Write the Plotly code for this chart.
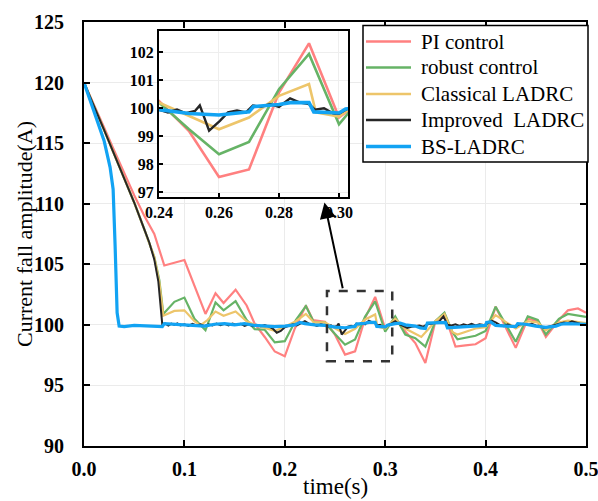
import plotly.graph_objects as go

# ---------------- data ----------------
t_pi = [0, 0.01, 0.02, 0.03, 0.04, 0.05, 0.06, 0.07, 0.08, 0.10, 0.121, 0.131, 0.139, 0.151, 0.162,
        0.17, 0.18, 0.19, 0.20, 0.21, 0.221, 0.228, 0.24, 0.25, 0.26, 0.27, 0.28, 0.29, 0.30, 0.31,
        0.32, 0.33, 0.34, 0.35, 0.359, 0.37, 0.38, 0.39, 0.40, 0.41, 0.43, 0.442, 0.452, 0.46, 0.473,
        0.482, 0.492, 0.50]
y_pi = [120, 118.2, 116.3, 114.4, 112.5, 110.7, 109.0, 107.5, 104.9, 105.35, 100.9, 102.6, 101.8, 102.9, 101.6,
        100.1, 99.0, 97.8, 97.4, 99.7, 101.6, 100.4, 100.26, 99.19, 97.55, 97.82, 100.56, 102.31, 99.67, 100.5,
        99.45, 98.5, 96.85, 100.3, 100.9, 98.2, 98.3, 98.4, 98.9, 101.5, 98.1, 100.5, 100.3, 99.0, 100.4,
        101.2, 101.35, 101.0]

t_rob = [0, 0.01, 0.02, 0.03, 0.04, 0.05, 0.06, 0.07, 0.075, 0.079, 0.09, 0.10, 0.11, 0.121, 0.131,
         0.139, 0.151, 0.162, 0.17, 0.18, 0.19, 0.20, 0.211, 0.221, 0.229, 0.24, 0.25, 0.26, 0.27, 0.28,
         0.29, 0.30, 0.31, 0.32, 0.33, 0.34, 0.35, 0.359, 0.367, 0.372, 0.39, 0.40, 0.41, 0.43, 0.442,
         0.452, 0.46, 0.473, 0.482, 0.50]
y_rob = [120, 118.1, 116.1, 114.1, 112.1, 110.1, 107.9, 105.6, 103.7, 100.9, 101.9, 102.25, 100.5, 99.55, 101.85,
         101.2, 101.95, 100.4, 99.65, 99.6, 98.55, 98.65, 100.4, 101.55, 100.2, 100.2, 99.25, 98.36, 98.8, 100.68,
         101.93, 99.43, 100.7, 99.2, 98.9, 98.2, 100.3, 101.0, 99.4, 98.8, 99.1, 99.5, 101.5, 98.6, 100.7,
         100.4, 99.2, 100.5, 100.9, 100.65]

t_cla = [0, 0.01, 0.02, 0.03, 0.04, 0.05, 0.06, 0.07, 0.075, 0.079, 0.09, 0.10, 0.11, 0.116, 0.123,
         0.131, 0.139, 0.151, 0.162, 0.17, 0.18, 0.19, 0.20, 0.211, 0.221, 0.229, 0.24, 0.25, 0.26, 0.27,
         0.28, 0.29, 0.2923, 0.30, 0.31, 0.32, 0.336, 0.35, 0.359, 0.367, 0.372, 0.39, 0.40, 0.41, 0.43,
         0.442, 0.452, 0.46, 0.473, 0.482, 0.50]
y_cla = [120, 118.1, 116.1, 114.1, 112.1, 110.1, 107.9, 105.6, 103.5, 100.75, 101.15, 101.2, 100.3, 99.95, 100.4,
         101.1, 100.75, 101.1, 100.3, 100.0, 99.75, 99.5, 99.85, 100.3, 100.9, 100.2, 100.2, 99.73, 99.25, 99.67,
         100.44, 100.86, 99.85, 99.7, 100.5, 99.7, 99.0, 100.3, 100.9, 99.4, 99.2, 99.7, 99.8, 100.8, 99.7,
         100.3, 100.2, 99.55, 100.2, 100.35, 100.15]

t_imp = [0, 0.01, 0.02, 0.03, 0.04, 0.05, 0.06, 0.065, 0.07, 0.074, 0.078,
         0.081, 0.084, 0.087, 0.09, 0.093, 0.096, 0.1, 0.104, 0.108, 0.112, 0.116, 0.12, 0.124, 0.128,
         0.132, 0.136, 0.14, 0.144, 0.148, 0.152, 0.156, 0.16, 0.164, 0.168, 0.172, 0.176, 0.18, 0.184,
         0.188, 0.192, 0.196, 0.2, 0.204, 0.208, 0.212, 0.216, 0.22, 0.224, 0.228, 0.232, 0.236, 0.24,
         0.243, 0.246, 0.249, 0.252, 0.2536, 0.2567, 0.2603, 0.263, 0.266, 0.269, 0.2713, 0.274, 0.277,
         0.28, 0.2837, 0.287, 0.29, 0.292, 0.295, 0.298, 0.30, 0.303, 0.306, 0.31, 0.314, 0.318, 0.322,
         0.326, 0.33, 0.334, 0.338, 0.342, 0.346, 0.35, 0.354, 0.358, 0.362, 0.366, 0.37, 0.374, 0.378,
         0.382, 0.386, 0.39, 0.394, 0.398, 0.402, 0.406, 0.41, 0.414, 0.418, 0.422, 0.426, 0.43, 0.434,
         0.438, 0.442, 0.446, 0.45, 0.454, 0.458, 0.462, 0.466, 0.47, 0.474, 0.478, 0.482, 0.486, 0.49,
         0.494, 0.50]
y_imp = [120, 118.1, 116.1, 114.1, 112.1, 110.1, 107.9, 106.8, 105.4, 103.6, 100.0,
         100.1, 99.95, 100.1, 100.0, 100.12, 99.95, 100.05, 99.92, 100.08, 99.95, 100.05, 99.9, 100.05, 99.95,
         100.1, 99.98, 100.08, 99.95, 100.1, 100.0, 100.08, 99.92, 100.05, 99.9, 100.0, 99.88, 99.98, 99.85,
         99.7, 99.35, 99.5, 99.8, 99.9, 100.05, 99.95, 100.15, 100.3, 100.1, 100.05, 99.92, 100.05, 99.95,
         99.85, 99.95, 99.82, 99.9, 100.1, 99.2, 99.55, 99.85, 99.92, 99.85, 100.1, 100.05, 100.15,
         100.05, 100.35, 100.2, 100.15, 99.95, 100.0, 99.82, 99.8, 100.0, 100.1, 100.3, 100.05, 99.9, 99.75,
         99.85, 99.9, 99.95, 99.85, 100.05, 100.1, 100.15, 100.3, 100.7, 100.0, 99.95, 100.05, 99.92, 100.05,
         99.95, 100.08, 99.95, 100.05, 99.98, 100.1, 100.35, 100.2, 100.0, 99.9, 100.05, 99.9, 99.85, 100.05,
         100.1, 100.0, 100.08, 99.95, 99.9, 99.75, 99.85, 99.95, 100.05, 100.1, 100.2, 100.15, 100.3, 100.2,
         100.1, 100.05]

t_bs = [0, 0.01, 0.02, 0.026, 0.029, 0.031, 0.033, 0.035, 0.04, 0.05, 0.06, 0.07, 0.078, 0.08, 0.09,
        0.10, 0.11, 0.12, 0.13, 0.14, 0.15, 0.16, 0.17, 0.18, 0.19, 0.20, 0.21, 0.215, 0.22, 0.23,
        0.24, 0.25, 0.26, 0.27, 0.2715, 0.28, 0.2837, 0.29, 0.2916, 0.30, 0.3022, 0.31, 0.315, 0.32, 0.33,
        0.335, 0.34, 0.342, 0.35, 0.36, 0.362, 0.37, 0.38, 0.39, 0.40, 0.401, 0.405, 0.41, 0.42, 0.43,
        0.432, 0.44, 0.45, 0.46, 0.47, 0.475, 0.48, 0.49, 0.50]
y_bs = [120, 117.6, 115.2, 113.0, 111.2, 106.5, 101.0, 99.9, 99.85, 99.95, 99.9, 99.85, 99.85, 100.1, 100.05,
        100.0, 99.95, 99.9, 100.05, 100.1, 100.0, 100.1, 99.95, 99.9, 99.85, 99.9, 100.0, 100.2, 100.1, 100.0,
        99.95, 99.81, 99.76, 99.87, 100.06, 100.13, 100.2, 100.2, 99.87, 99.83, 99.97, 100.1, 100.15, 100.0, 99.9,
        99.75, 99.7, 100.15, 100.2, 100.2, 99.75, 99.8, 99.85, 99.9, 99.95, 100.2, 100.25, 99.95, 99.9, 99.85,
        100.1, 100.05, 99.9, 99.8, 99.9, 100.05, 100.1, 100.05, 100.05]

names = ["PI control", "robust control", "Classical LADRC", "Improved\u00a0 LADRC", "BS-LADRC"]
colors = ["#FF8080", "#66B366", "#EDC56A", "#262626", "#12A3F3"]
series = [(t_pi, y_pi), (t_rob, y_rob), (t_cla, y_cla), (t_imp, y_imp), (t_bs, y_bs)]
widths = [2.2, 2.2, 2.2, 2.0, 3.2]

x_ticks = [0.0, 0.1, 0.2, 0.3, 0.4, 0.5]
y_ticks = [90, 95, 100, 105, 110, 115, 120, 125]
inset_x_ticks = [0.24, 0.26, 0.28, 0.30]
inset_y_ticks = [97, 98, 99, 100, 101, 102]

FONT = "Liberation Serif, Times New Roman, serif"

# page geometry (pixels) used to place paper-referenced decorations
W, H = 598, 501
ML, MR, MT, MB = 84, 12, 22, 55
PW, PH = W - ML - MR, H - MT - MB


def px(xp):
    return (xp - ML) / PW


def py(yp):
    return 1 - (yp - MT) / PH


fig = go.Figure()
for (tx, ty), nm, c, w in zip(series, names, colors, widths):
    fig.add_trace(go.Scatter(x=tx, y=ty, mode="lines", name=nm, showlegend=False,
                             line=dict(color=c, width=w), xaxis="x", yaxis="y"))
for (tx, ty), nm, c, w in zip(series, names, colors, widths):
    fig.add_trace(go.Scatter(x=tx, y=ty, mode="lines", name=nm, showlegend=False,
                             line=dict(color=c, width=w + 0.4), xaxis="x2", yaxis="y2"))

tickfont = dict(family=FONT, size=20, color="black", weight=700)
fig.update_layout(
    width=W, height=H,
    margin=dict(l=ML, r=MR, t=MT, b=MB),
    paper_bgcolor="white", plot_bgcolor="white",
    font=dict(family=FONT, color="black"),
    xaxis=dict(domain=[0, 1], range=[0, 0.5], tickvals=x_ticks, ticktext=[f"{v:.1f}" for v in x_ticks],
               automargin=False, ticklabeloverflow="allow",
               showline=True, linecolor="black", linewidth=1.8, mirror="ticks",
               ticks="inside", ticklen=6, tickwidth=1.5, tickcolor="black",
               showgrid=True, gridcolor="#EBEBEB", gridwidth=1, zeroline=False,
               tickfont=tickfont, ticklabelstandoff=4),
    yaxis=dict(domain=[0, 1], range=[90, 125], tickvals=y_ticks, automargin=False,
               ticklabeloverflow="allow",
               showline=True, linecolor="black", linewidth=1.8, mirror="ticks",
               ticks="inside", ticklen=6, tickwidth=1.5, tickcolor="black",
               showgrid=True, gridcolor="#EBEBEB", gridwidth=1, zeroline=False,
               tickfont=tickfont, ticklabelstandoff=14),
    xaxis2=dict(domain=[0.1494, 0.5259], range=[0.24, 0.303], tickvals=inset_x_ticks,
                ticktext=[f"{v:.2f}" for v in inset_x_ticks], anchor="y2", automargin=False,
                ticklabeloverflow="allow",
                showline=True, linecolor="black", linewidth=2, mirror=True,
                ticks="inside", ticklen=4, tickwidth=1.5, tickcolor="black",
                showgrid=True, gridcolor="#EEEEEE", zeroline=False,
                tickfont=dict(family=FONT, size=16, color="black", weight=700)),
    yaxis2=dict(domain=[0.5873, 0.9788], range=[96.84, 102.75], tickvals=inset_y_ticks, anchor="x2",
                automargin=False, ticklabeloverflow="allow",
                showline=True, linecolor="black", linewidth=2, mirror=True,
                ticks="inside", ticklen=4, tickwidth=1.5, tickcolor="black",
                showgrid=True, gridcolor="#EEEEEE", zeroline=False,
                tickfont=dict(family=FONT, size=16, color="black", weight=700)),
    showlegend=False,
)

# axis titles
fig.add_annotation(text="Current fall amplitude(A)", xref="paper", yref="paper", x=px(24), y=0.5,
                   textangle=-90, showarrow=False, xanchor="center", yanchor="middle",
                   font=dict(family=FONT, size=22, color="black"))
fig.add_annotation(text="time(s)", xref="paper", yref="paper", x=0.5, y=py(486),
                   showarrow=False, xanchor="center", yanchor="middle",
                   font=dict(family=FONT, size=23, color="black"))

# legend (box, line samples, labels)
leg_left, leg_right, leg_top, leg_bottom = 363, 588, 25.5, 162
leg_rows = [41.5, 67.5, 94, 120, 146.5]
fig.add_shape(type="rect", xref="paper", yref="paper", x0=px(leg_left), x1=px(leg_right),
              y0=py(leg_bottom), y1=py(leg_top), fillcolor="white", line=dict(color="black", width=1.5))
for nm, c, w, yr in zip(names, colors, widths, leg_rows):
    fig.add_shape(type="line", xref="paper", yref="paper", x0=px(366), x1=px(411), y0=py(yr), y1=py(yr),
                  line=dict(color=c, width=w + 0.3))
    fig.add_annotation(text=nm, xref="paper", yref="paper", x=px(419), y=py(yr), showarrow=False,
                       xanchor="left", yanchor="middle", font=dict(family=FONT, size=21, color="black"))

# dashed zoom rectangle on the main axes
fig.add_shape(type="rect", xref="x", yref="y", x0=0.242, x1=0.307, y0=97.0, y1=102.8,
              line=dict(color="#333333", width=2.5, dash="dash"))

# arrow from the rectangle to the inset
fig.add_annotation(x=0.2395, y=110.1, ax=0.258, ay=102.9, xref="x", yref="y", axref="x", ayref="y",
                   text="", showarrow=True, arrowhead=2, arrowsize=1.6, arrowwidth=2, arrowcolor="black")

fig.write_html("out.html")
